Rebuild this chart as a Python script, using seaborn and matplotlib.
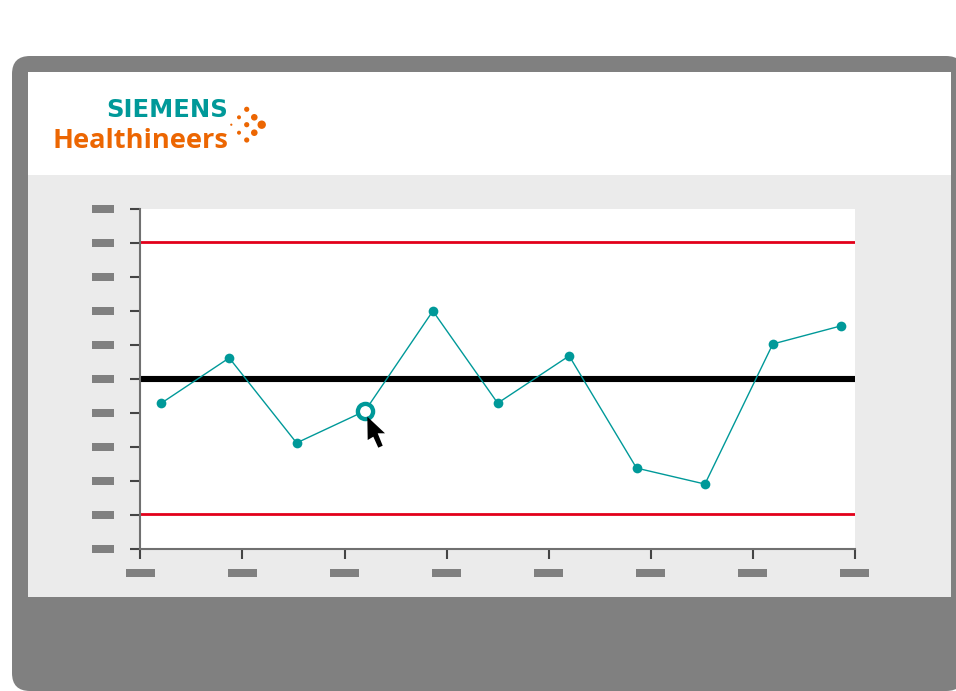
import matplotlib
matplotlib.use("Agg")
import matplotlib.pyplot as plt
import matplotlib.patches as mpatches
import pandas as pd
import seaborn as sns

W, H = 956, 691

# control chart values, axis units
run_x = [0.205, 0.87, 1.53, 2.2, 2.865, 3.5, 4.2, 4.86, 5.53, 6.195, 6.86]
run_y = [4.29, 5.62, 3.12, 4.06, 7.0, 4.29, 5.68, 2.38, 1.91, 6.03, 6.56]
picked = 3
center = 5
limits = [1.02, 9.03]
x_ticks = list(range(8))
y_ticks = list(range(11))

# logo dots, pixels: x, y, radius
logo_x = [246.7, 239, 254.3, 231.3, 246.7, 261.7, 239, 254.3, 246.7]
logo_y = [109.3, 117.3, 117.3, 124.7, 124.7, 124.7, 132.7, 132.7, 140]
logo_r = [2.6, 2, 3.3, 1.1, 2.6, 4.2, 2, 3.3, 2.6]

# mouse pointer outline, pixels
cursor_x = [367.3, 385, 377.7, 382.7, 378.3, 373.3, 367.7]
cursor_y = [416.7, 433.3, 433.3, 445.7, 447.7, 436.7, 440]

GREY = "#808080"
PANEL = "#ebebeb"
TEAL = "#009999"
ORANGE = "#ec6602"
RED = "#e2001a"

sns.set_theme(style="white")
plt.rcParams["font.family"] = ["Open Sans", "DejaVu Sans"]

fig = plt.figure(figsize=(W / 100, H / 100), dpi=100, facecolor="white")

# background in pixel coordinates
bg = fig.add_axes([0, 0, 1, 1], zorder=0)
bg.set_xlim(0, W)
bg.set_ylim(H, 0)
bg.axis("off")

bg.add_patch(mpatches.FancyBboxPatch((12, 56), 952, 635, boxstyle="round,pad=0,rounding_size=18",
                                     fc=GREY, ec="none"))
bg.add_patch(mpatches.Rectangle((28, 72), 923, 103, fc="white", ec="none"))
bg.add_patch(mpatches.Rectangle((28, 175), 923, 422, fc=PANEL, ec="none"))

bg.text(106, 116.7, "SIEMENS", color=TEAL, fontsize=17.5, fontweight="bold", family="DejaVu Sans",
        va="baseline", ha="left")
bg.text(53, 147.5, "Healthineers", color=ORANGE, fontsize=19.6, fontweight="bold", va="baseline", ha="left")
for x, y, r in zip(logo_x, logo_y, logo_r):
    bg.add_patch(mpatches.Circle((x, y), r, fc=ORANGE, ec="none"))

# chart
left, right, top, bottom = 140.4, 855, 209, 549
ax = fig.add_axes([left / W, 1 - bottom / H, (right - left) / W, (bottom - top) / H], zorder=1)
ax.set_facecolor("white")

df = pd.DataFrame({"x": run_x, "y": run_y})
for lim in limits:
    ax.axhline(lim, color=RED, lw=2)
ax.axhline(center, color="black", lw=4.4)
sns.lineplot(data=df, x="x", y="y", sort=False, color=TEAL, lw=1, marker="o", markersize=7,
             markeredgewidth=0, errorbar=None, ax=ax, zorder=3)
sns.scatterplot(x=[run_x[picked]], y=[run_y[picked]], s=120, color="white", edgecolor=TEAL,
                linewidth=3.1, ax=ax, zorder=4, clip_on=False)

ax.set_xlim(0, 7)
ax.set_ylim(0, 10)
ax.set_xticks(x_ticks)
ax.set_yticks(y_ticks)
ax.set_xticklabels([])
ax.set_yticklabels([])
ax.set_xlabel("")
ax.set_ylabel("")
ax.tick_params(axis="both", length=7.5, width=1.5, color="#444444", direction="out",
               bottom=True, left=True)
sns.despine(ax=ax)
for side in ["left", "bottom"]:
    ax.spines[side].set_color("#707070")
    ax.spines[side].set_linewidth(1.5)

# blanked-out tick labels
sx = (right - left) / ax.get_xlim()[1]
sy = (bottom - top) / ax.get_ylim()[1]
for v in y_ticks:
    bg.add_patch(mpatches.Rectangle((92, bottom - v * sy - 4), 22, 8, fc=GREY, ec="none"))
for v in x_ticks:
    bg.add_patch(mpatches.Rectangle((left + v * sx - 14.5, 569), 29, 8, fc=GREY, ec="none"))

# pointer on top of everything
top_ax = fig.add_axes([0, 0, 1, 1], zorder=2)
top_ax.set_xlim(0, W)
top_ax.set_ylim(H, 0)
top_ax.axis("off")
top_ax.add_patch(mpatches.Polygon(list(zip(cursor_x, cursor_y)), closed=True, fc="black", ec="none"))

fig.savefig("out.png", dpi=100)
